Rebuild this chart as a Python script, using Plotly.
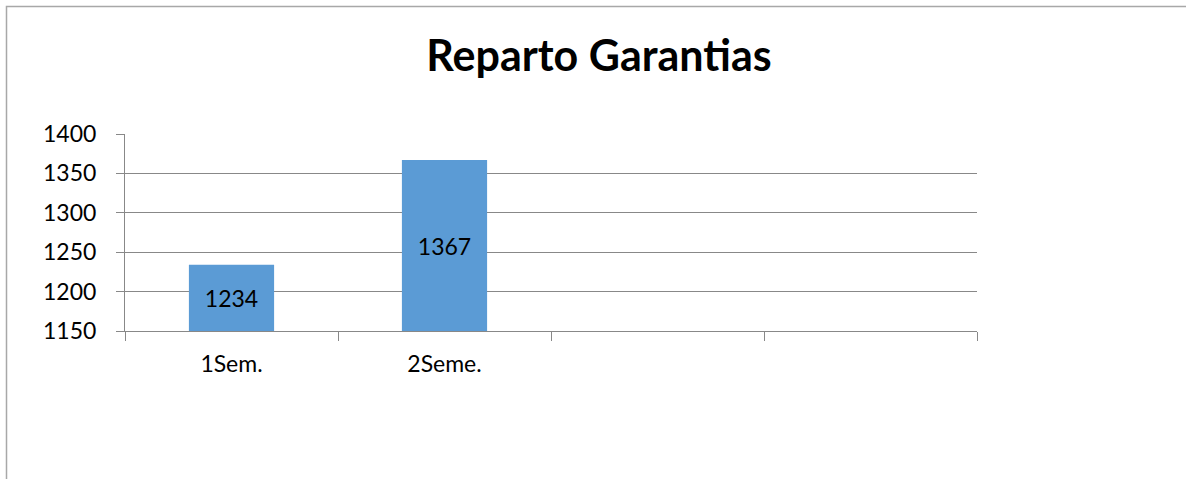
import plotly.graph_objects as go

categories = ["1Sem.", "2Seme.", " ", "  "]
values = [1234, 1367, None, None]
tick_labels = ["1Sem.", "2Seme.", "", ""]
y_ticks = [1150, 1200, 1250, 1300, 1350, 1400]
y_min, y_max = 1150, 1400
title = "Reparto Garantias"

FONT = "Lato, Calibri, Arial, sans-serif"
GRID = "#888888"

fig = go.Figure()
fig.add_trace(go.Bar(
    x=categories,
    y=[(v - y_min) if v is not None else None for v in values],
    base=y_min,
    marker=dict(color="#5b9bd5", line=dict(width=0)),
    width=0.4,
    text=[str(v) if v is not None else "" for v in values],
    textposition="inside", insidetextanchor="middle",
    textfont=dict(family=FONT, size=23, color="#000000"),
    hovertext=[str(v) for v in values], hoverinfo="x+text",
))

L, R, T, B = 125, 209, 134, 148
W, H = 1186, 479
pw = W - L - R
ph = H - T - B

fig.update_layout(
    width=W, height=H,
    margin=dict(l=L, r=R, t=T, b=B, pad=0),
    paper_bgcolor="white", plot_bgcolor="white",
    showlegend=False,
    title=dict(text="<b>" + title + "</b>", x=599 / W, xanchor="center",
               y=1 - 56 / H, yanchor="middle",
               font=dict(family=FONT, size=43, color="#000000")),
    xaxis=dict(
        type="category", categoryorder="array", categoryarray=categories,
        tickvals=categories, ticktext=tick_labels,
        tickson="boundaries", ticks="outside", ticklen=9, tickcolor=GRID, tickwidth=1,
        showline=True, linecolor=GRID, linewidth=1,
        showgrid=False, zeroline=False,
        ticklabelstandoff=12,
        tickfont=dict(family=FONT, size=23, color="#000000"),
    ),
    yaxis=dict(
        range=[y_min, y_max], tickvals=y_ticks,
        ticks="outside", ticklen=8, tickcolor=GRID, tickwidth=1,
        showline=True, linecolor=GRID, linewidth=1,
        showgrid=True, gridcolor=GRID, gridwidth=1,
        zeroline=False,
        ticklabelstandoff=15,
        tickfont=dict(family=FONT, size=23, color="#000000"),
    ),
    shapes=[dict(
        type="rect", xref="paper", yref="paper",
        x0=(6.5 - L) / pw, x1=(W + 20 - L) / pw,
        y0=(H - B - (H + 20)) / ph, y1=(H - B - 6.5) / ph,
        line=dict(color="#a8a8a8", width=1.5), fillcolor="rgba(0,0,0,0)", layer="below",
    )],
)

fig.write_html("out.html", config={"displayModeBar": False},
               post_script="document.body.style.margin='0';document.body.style.overflow='hidden';")
